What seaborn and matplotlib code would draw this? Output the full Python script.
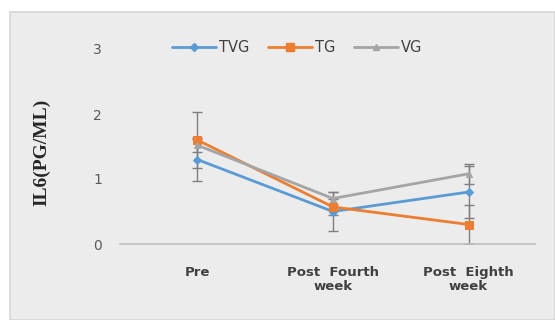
import matplotlib
matplotlib.use("Agg")
import matplotlib.pyplot as plt
import matplotlib.patches as mpatches
import seaborn as sns
import pandas as pd

categories = ["Pre", "Post  Fourth\nweek", "Post  Eighth\nweek"]
groups = ["TVG", "TG", "VG"]
tvg = [1.3, 0.5, 0.8]
tg = [1.6, 0.57, 0.3]
vg = [1.52, 0.7, 1.08]
tvg_err = [0.33, 0.3, 0.4]
tg_err = [0.43, 0.12, 0.3]
vg_err = [0.1, 0.1, 0.15]

values = {"TVG": tvg, "TG": tg, "VG": vg}
errors = {"TVG": tvg_err, "TG": tg_err, "VG": vg_err}
colors = {"TVG": "#5b9bd5", "TG": "#ed7d31", "VG": "#a5a5a5"}
markers = {"TVG": "D", "TG": "s", "VG": "^"}
msizes = {"TVG": 4, "TG": 6, "VG": 5}

rows = []
for g in groups:
    for c, v in zip(categories, values[g]):
        rows.append({"cat": c, "val": v, "grp": g})
df = pd.DataFrame(rows)

sns.set_style("white")
plt.rcParams["font.family"] = ["DejaVu Sans"]

fig = plt.figure(figsize=(5.55, 3.2), dpi=100)
fig.patch.set_facecolor("white")
panel = mpatches.Rectangle((10 / 555, 0), 1 - 10 / 555, 1 - 12 / 320,
                           transform=fig.transFigure, facecolor="#ececec",
                           edgecolor="#d6d6d6", linewidth=1.2, zorder=-5)
fig.patches.append(panel)

ax = fig.add_axes([120 / 555, 1 - 244 / 320, (535 - 120) / 555, (244 - 49) / 320])
ax.set_facecolor("none")
ax.set_zorder(2)

for g in groups:
    ax.errorbar(range(len(categories)), values[g], yerr=errors[g], fmt="none",
                ecolor="#7f7f7f", elinewidth=1, capsize=3.5, capthick=1, zorder=2)

sns.lineplot(data=df, x="cat", y="val", hue="grp", style="grp",
             palette=colors, markers=markers, dashes=False, sort=False,
             linewidth=2.0, ax=ax, legend=False, zorder=3)
for line in ax.get_lines():
    c = matplotlib.colors.to_hex(line.get_color())
    for g in groups:
        if c == colors[g]:
            line.set_markersize(msizes[g])
            line.set_markeredgecolor(colors[g])

ax.set_xlim(-0.57, 2.49)
ax.set_ylim(0, 3)
ax.set_yticks([0, 1, 2, 3])
ax.tick_params(axis="y", length=0, labelsize=10, colors="#595959", pad=13)
ax.tick_params(axis="x", length=0, labelsize=9.5, pad=16)
for lab in ax.get_xticklabels():
    lab.set_fontweight("bold")
    lab.set_color("#404040")
    lab.set_linespacing(1.1)
for s in ["top", "right", "left"]:
    ax.spines[s].set_visible(False)
ax.spines["bottom"].set_color("#bfbfbf")
ax.spines["bottom"].set_linewidth(1.2)
ax.set_xlabel("")
ax.set_ylabel("IL6(PG/ML)", fontfamily=["Liberation Serif", "DejaVu Serif"],
              fontweight="bold", fontsize=14, color="#262626")
ax.yaxis.set_label_coords((50 - 120) / (535 - 120), (244 - 152) / (244 - 49))

handles = [plt.Line2D([], [], color=colors[g], marker=markers[g],
                      markersize=msizes[g], linewidth=2) for g in groups]
fig.legend(handles, groups, loc="center", bbox_to_anchor=(297 / 555, 1 - 48 / 320),
           ncol=3, frameon=False, fontsize=10.5, handlelength=3.0,
           columnspacing=1.3, handletextpad=0.2, labelcolor="#404040")

fig.savefig("out.png", dpi=100, facecolor="white")
